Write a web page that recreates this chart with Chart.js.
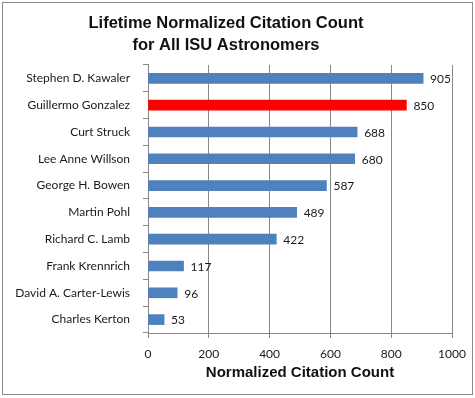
<!DOCTYPE html>
<html>
<head>
<meta charset="utf-8">
<script src="https://cdn.jsdelivr.net/npm/chart.js@4"></script>
<style>
  html, body { margin: 0; padding: 0; background: #fff; }
  #wrap { width: 475px; height: 398px; }
</style>
</head>
<body>
<div id="wrap"><canvas id="citeChart" width="475" height="398"></canvas></div>
<script>
// data
const astronomers = ['Stephen D. Kawaler', 'Guillermo Gonzalez', 'Curt Struck', 'Lee Anne Willson',
  'George H. Bowen', 'Martin Pohl', 'Richard C. Lamb', 'Frank Krennrich', 'David A. Carter-Lewis', 'Charles Kerton'];
const citations = [905, 850, 688, 680, 587, 489, 422, 117, 96, 53];
const highlighted = 'Guillermo Gonzalez';
const xTicks = [0, 200, 400, 600, 800, 1000];

const gridGrey = '#878787';

// value labels next to each bar end
const valueLabels = {
  id: 'valueLabels',
  afterDatasetsDraw(chart) {
    const ctx = chart.ctx;
    const meta = chart.getDatasetMeta(0);
    ctx.save();
    ctx.font = '12px Lato, "Liberation Sans", sans-serif';
    ctx.fillStyle = '#1a1a1a';
    ctx.textAlign = 'left';
    ctx.textBaseline = 'middle';
    meta.data.forEach((bar, i) => {
      ctx.fillText(String(citations[i]), bar.x + 7, bar.y + 1);
    });
    ctx.restore();
  }
};

// thin frame around the whole picture
const frame = {
  id: 'frame',
  afterDraw(chart) {
    const ctx = chart.ctx;
    ctx.save();
    ctx.strokeStyle = '#8a8a8a';
    ctx.lineWidth = 1;
    ctx.strokeRect(2.5, 2.5, 470, 392);
    ctx.restore();
  }
};

const ctx = document.getElementById('citeChart').getContext('2d');
new Chart(ctx, {
  type: 'bar',
  data: {
    labels: astronomers,
    datasets: [{
      data: citations,
      backgroundColor: astronomers.map(n => n === highlighted ? '#ff0000' : '#4f81bd'),
      barThickness: 10,
      borderWidth: 0
    }]
  },
  options: {
    indexAxis: 'y',
    responsive: false,
    animation: false,
    devicePixelRatio: 1,
    layout: { padding: { top: 0, right: 23, bottom: 10, left: 0 } },
    scales: {
      x: {
        min: 0,
        max: 1000,
        afterBuildTicks(scale) { scale.ticks = xTicks.map(v => ({ value: v })); },
        afterFit(scale) { scale.height = 55; },
        grid: { color: gridGrey, tickLength: 5, drawTicks: true },
        border: { display: true, color: gridGrey },
        ticks: {
          padding: 9,
          color: '#1a1a1a',
          callback: v => String(v),
          font: { family: 'Lato, "Liberation Sans", sans-serif', size: 12 }
        },
        title: {
          display: true,
          text: 'Normalized Citation Count',
          color: '#111',
          font: { family: '"Liberation Sans", Arial, sans-serif', size: 15, weight: 'bold', lineHeight: 1.2 },
          padding: { top: 0, bottom: 6 }
        }
      },
      y: {
        afterFit(scale) { scale.width = 148; },
        grid: { drawOnChartArea: false, color: gridGrey, tickLength: 5 },
        border: { display: true, color: gridGrey },
        ticks: {
          padding: 13,
          color: '#1a1a1a',
          font: { family: 'Lato, "Liberation Sans", sans-serif', size: 12 }
        }
      }
    },
    plugins: {
      legend: { display: false },
      tooltip: { enabled: false },
      title: {
        display: true,
        text: ['Lifetime Normalized Citation Count', 'for All ISU Astronomers'],
        color: '#111',
        font: { family: '"Liberation Sans", Arial, sans-serif', size: 16.5, weight: 'bold', lineHeight: 1.333 },
        padding: { top: 12, bottom: 9 }
      }
    }
  },
  plugins: [valueLabels, frame]
});
</script>
</body>
</html>
